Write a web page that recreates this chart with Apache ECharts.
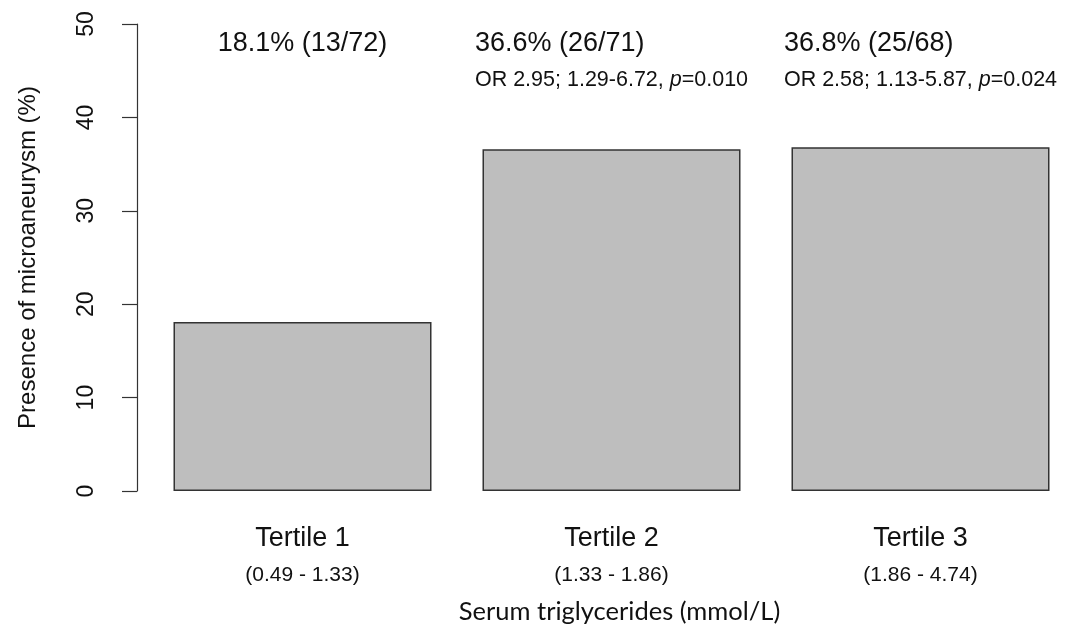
<!DOCTYPE html>
<html>
<head>
<meta charset="utf-8">
<script src="https://cdn.jsdelivr.net/npm/echarts@6/dist/echarts.min.js"></script>
<style>html,body{margin:0;padding:0;background:#fff}#c{width:1075px;height:630px}</style>
</head>
<body>
<div id="c"></div>
<script>
const categories = ['Tertile 1', 'Tertile 2', 'Tertile 3'];
const ranges = ['(0.49 - 1.33)', '(1.33 - 1.86)', '(1.86 - 4.74)'];
const percentValues = [18.1, 36.6, 36.8];
const countLabels = ['18.1% (13/72)', '36.6% (26/71)', '36.8% (25/68)'];
const orLabels = ['', 'OR 2.95; 1.29-6.72, ', 'OR 2.58; 1.13-5.87, '];
const pLabels = ['', '0.010', '0.024'];
const yTicks = [0, 10, 20, 30, 40, 50];
const yMin = 0, yMax = 50, yStep = 10;

const FONT = 'Liberation Sans, Arial, sans-serif';
const chart = echarts.init(document.getElementById('c'), null, {renderer: 'canvas'});

chart.setOption({
  animation: false,
  backgroundColor: '#fff',
  grid: {left: 148, right: 0, top: 24, bottom: 138, containLabel: false},
  xAxis: {
    type: 'category',
    data: categories,
    axisLine: {show: false},
    axisTick: {show: false},
    axisLabel: {
      margin: 29,
      interval: 0,
      formatter: function (v, i) { return '{a|' + v + '}\n{b|' + ranges[i] + '}'; },
      rich: {
        a: {fontFamily: FONT, fontSize: 27, lineHeight: 37, color: '#111'},
        b: {fontFamily: FONT, fontSize: 21, lineHeight: 37, color: '#111'}
      }
    },
    name: 'Serum triglycerides (mmol/L)',
    nameLocation: 'middle',
    nameGap: 108,
    nameTextStyle: {fontFamily: 'Lato, Open Sans, sans-serif', fontSize: 25.5, color: '#111', padding: [0, 0, 0, 16]}
  },
  yAxis: {
    type: 'value',
    min: yMin, max: yMax, interval: yStep,
    offset: 11,
    splitLine: {show: false},
    axisLine: {show: true, lineStyle: {color: '#333', width: 1.2}},
    axisTick: {show: true, length: 15, lineStyle: {color: '#333', width: 1.2}},
    axisLabel: {
      rotate: 90, margin: 39, fontFamily: FONT, fontSize: 23, color: '#111',
      formatter: function (v) { return yTicks.indexOf(v) >= 0 ? String(v) : ''; }
    },
    name: 'Presence of microaneurysm (%)',
    nameLocation: 'middle',
    nameGap: 97,
    nameRotate: 90,
    nameTextStyle: {fontFamily: FONT, fontSize: 24, color: '#111'}
  },
  series: [
    {
      type: 'bar',
      data: percentValues,
      barCategoryGap: '16.5%',
      itemStyle: {color: '#bebebe', borderColor: '#333', borderWidth: 1.5},
      z: 3
    },
    {
      type: 'bar',
      data: categories.map(function () { return yMax; }),
      barGap: '-100%',
      barCategoryGap: '16.5%',
      silent: true,
      itemStyle: {color: 'rgba(0,0,0,0)'},
      z: 2,
      label: {
        show: true,
        position: 'insideTop',
        distance: 2,
        align: 'center',
        formatter: function (p) {
          const i = p.dataIndex;
          let s = '{t|' + countLabels[i] + '}';
          if (orLabels[i]) s += '\n{o|' + orLabels[i] + '}{i|p}{o|=' + pLabels[i] + '}';
          return s;
        },
        rich: {
          t: {fontFamily: FONT, fontSize: 27, lineHeight: 36, color: '#111', align: 'left'},
          o: {fontFamily: FONT, fontSize: 21.5, lineHeight: 36, color: '#111', align: 'left'},
          i: {fontFamily: FONT, fontSize: 21.5, lineHeight: 36, color: '#111', fontStyle: 'italic', align: 'left'}
        }
      }
    }
  ]
});
</script>
</body>
</html>
